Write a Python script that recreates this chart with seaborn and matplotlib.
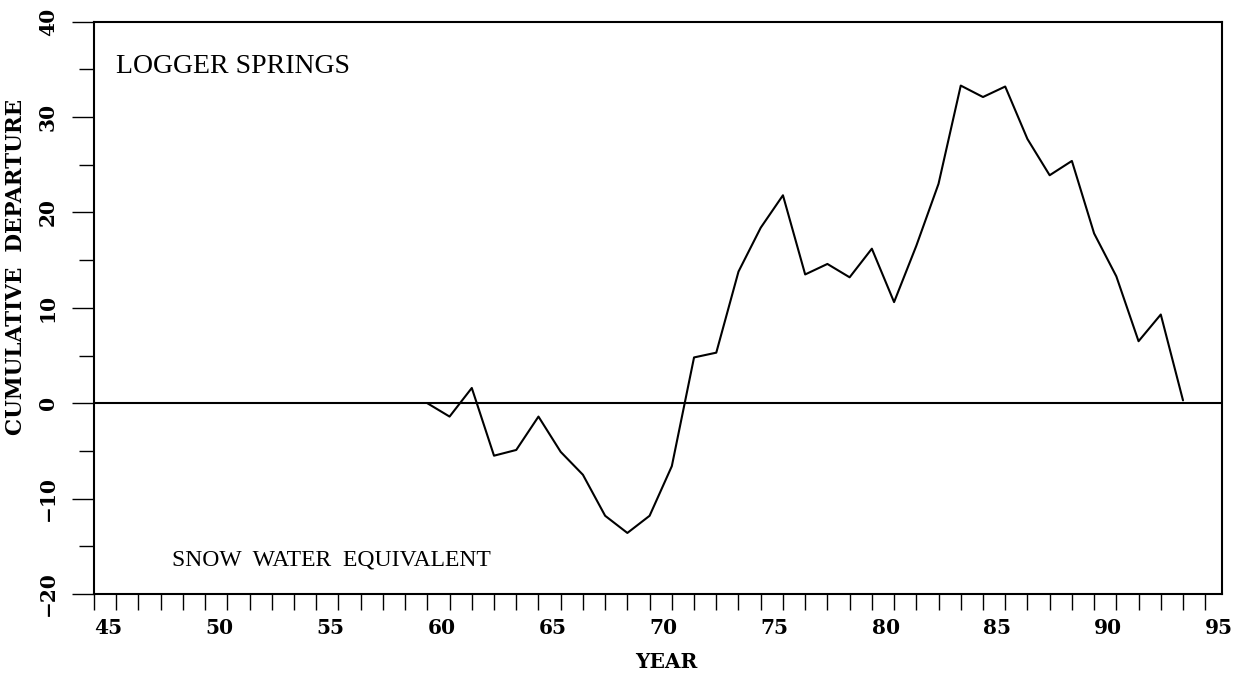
import matplotlib
matplotlib.use("Agg")
import matplotlib.pyplot as plt
import seaborn as sns
import pandas as pd
from matplotlib.ticker import MultipleLocator, FuncFormatter

# ---- data ----
years = [60, 61, 62, 63, 64, 65, 66, 67, 68, 69, 70, 71, 72, 73, 74, 75, 76,
         77, 78, 79, 80, 81, 82, 83, 84, 85, 86, 87, 88, 89, 90, 91, 92, 93, 94]
cum_departure = [0.0, -1.4, 1.6, -5.5, -4.9, -1.4, -5.1, -7.5, -11.8, -13.6,
                 -11.8, -6.6, 4.8, 5.3, 13.8, 18.4, 21.8, 13.5, 14.6, 13.2,
                 16.2, 10.6, 16.5, 23.0, 33.3, 32.1, 33.2, 27.7, 23.9, 25.4,
                 17.8, 13.3, 6.5, 9.3, 0.3]
x_label_years = [45, 50, 55, 60, 65, 70, 75, 80, 85, 90, 95]
station = "LOGGER SPRINGS"
variable = "SNOW WATER EQUIVALENT"

df = pd.DataFrame({"year": years, "dep": cum_departure})

sns.set_theme(style="ticks")
plt.rcParams["font.family"] = ["DejaVu Serif", "DejaVu Sans"]
for k in ["text.color", "axes.labelcolor", "xtick.color", "ytick.color", "axes.edgecolor"]:
    plt.rcParams[k] = "black"

fig = plt.figure(figsize=(12.33, 6.77), dpi=100)
ax = fig.add_axes([0.0762, 0.1226, 0.991 - 0.0762, 0.968 - 0.1226])

ax.axhline(0, color="black", lw=1.5, zorder=1)
sns.lineplot(data=df, x="year", y="dep", ax=ax, color="black", lw=1.5,
             zorder=2, legend=False)

ax.set_xlim(45, 95.75)
ax.set_ylim(-20, 40)

for s in ax.spines.values():
    s.set_visible(True)
    s.set_linewidth(1.5)
    s.set_color("black")

# x ticks: every year, labels every 5 years left-aligned at tick
ax.xaxis.set_major_locator(MultipleLocator(1))
ax.xaxis.set_major_formatter(
    FuncFormatter(lambda v, p: f"{int(round(v))}" if int(round(v)) in x_label_years else ""))
ax.tick_params(axis="x", which="major", direction="out", length=11.5, width=1.0,
               pad=6, labelsize=14.5)
for lab in ax.get_xticklabels():
    lab.set_horizontalalignment("left")
    lab.set_fontweight("bold")

# y ticks
ax.yaxis.set_major_locator(MultipleLocator(10))
ax.yaxis.set_minor_locator(MultipleLocator(5))
ax.tick_params(axis="y", which="major", direction="out", length=16, width=1.0,
               pad=10, labelsize=14.5)
ax.tick_params(axis="y", which="minor", direction="out", length=11, width=1.0)
for lab in ax.get_yticklabels():
    lab.set_rotation(90)
    lab.set_verticalalignment("center")
    lab.set_fontweight("bold")

ax.set_xlabel("YEAR", fontsize=14.5, fontweight="bold")
ax.set_ylabel("CUMULATIVE  DEPARTURE", fontsize=15.5, fontweight="bold")
ax.xaxis.set_label_coords(0.507, -0.101)
ax.yaxis.set_label_coords(-0.0594, 0.571)

ax.text(46.0, 34.6, station, fontsize=20, family="Liberation Serif",
        ha="left", va="baseline")
ax.text(48.5, -17.0, variable.replace(" ", "  "), fontsize=17,
        family="Liberation Serif", ha="left", va="baseline")

ax.grid(False)
fig.savefig("out.png", dpi=100, facecolor="white")
